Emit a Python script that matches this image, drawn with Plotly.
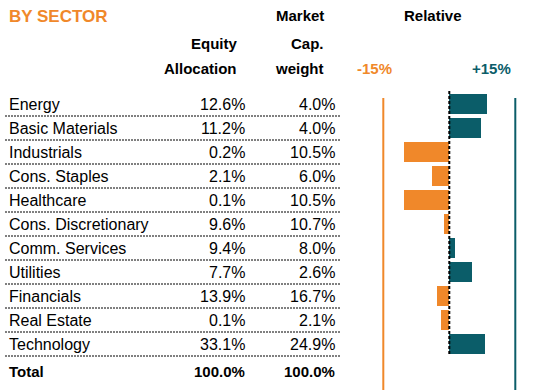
import plotly.graph_objects as go

sectors = ["Energy", "Basic Materials", "Industrials", "Cons. Staples", "Healthcare",
           "Cons. Discretionary", "Comm. Services", "Utilities", "Financials",
           "Real Estate", "Technology"]
equity_alloc = [12.6, 11.2, 0.2, 2.1, 0.1, 9.6, 9.4, 7.7, 13.9, 0.1, 33.1]
market_cap = [4.0, 4.0, 10.5, 6.0, 10.5, 10.7, 8.0, 2.6, 16.7, 2.1, 24.9]
total_equity = 100.0
total_mcap = 100.0
relative = [round(e - m, 1) for e, m in zip(equity_alloc, market_cap)]
ref_low, ref_high = -15, 15

ORANGE = "#F0882A"
TEAL = "#0B5D69"
FONT = "Liberation Sans"
W, H = 542, 390

idx = list(range(len(sectors)))
colors = [TEAL if r >= 0 else ORANGE for r in relative]

fig = go.Figure()
fig.add_trace(go.Bar(x=relative, y=idx, orientation="h", marker=dict(color=colors, line=dict(width=0)),
                     width=0.83, hoverinfo="skip"))

# axis mapping: zero at px 449.3, 4.4 px per %
px_per = 4.4
x0px = 449.3
xr = [(0 - x0px) / px_per, (W - x0px) / px_per]
row0 = 104.0
pitch = 24.0
yr = [(H - row0) / pitch, (0 - row0) / pitch]

def px(x):
    return x / W

def py(y):
    return 1 - y / H

ann = []
def t(text, x, y, anchor="left", bold=False, size=16, color="black", yref="paper"):
    ann.append(dict(text=f"<b>{text}</b>" if bold else text, x=px(x), xref="paper",
                    y=y, yref=yref, xanchor=anchor, yanchor="middle", showarrow=False,
                    font=dict(family=FONT, size=size, color=color)))

# headers
t("BY SECTOR", 7, py(17), bold=True, size=17, color=ORANGE)
t("Market", 326, py(16), anchor="right", bold=True, size=15)
t("Relative", 433, py(16), anchor="center", bold=True, size=15)
t("Equity", 239, py(43), anchor="right", bold=True, size=15)
t("Cap.", 326, py(43), anchor="right", bold=True, size=15)
t("Allocation", 239, py(68), anchor="right", bold=True, size=15)
t("weight", 326, py(68), anchor="right", bold=True, size=15)
t("-15%", 394, py(68), anchor="right", bold=True, size=15, color=ORANGE)
t("+15%", 513, py(68), anchor="right", bold=True, size=15, color=TEAL)

for i, (s, e, m) in enumerate(zip(sectors, equity_alloc, market_cap)):
    t(s, 7, i, yref="y")
    t(f"{e:.1f}%", 247, i, anchor="right", yref="y")
    t(f"{m:.1f}%", 337, i, anchor="right", yref="y")
ti = len(sectors) + 0.15
t("Total", 7, ti, bold=True, size=15, yref="y")
t(f"{total_equity:.1f}%", 247, ti, anchor="right", bold=True, size=15, yref="y")
t(f"{total_mcap:.1f}%", 337, ti, anchor="right", bold=True, size=15, yref="y")

shapes = []
for i in idx:
    shapes.append(dict(type="line", xref="paper", yref="y", x0=px(5), x1=px(341),
                       y0=i + 0.5, y1=i + 0.5, line=dict(color="black", width=1, dash="2px,1px")))
shapes.append(dict(type="line", xref="x", yref="y", x0=0, x1=0, y0=-0.54, y1=len(sectors) - 0.5,
                   line=dict(color="black", width=2, dash="3px,2px"), layer="above"))
shapes.append(dict(type="line", xref="x", yref="y", x0=ref_low, x1=ref_low, y0=-0.25, y1=yr[0],
                   line=dict(color=ORANGE, width=2)))
shapes.append(dict(type="line", xref="x", yref="y", x0=ref_high, x1=ref_high, y0=-0.25, y1=yr[0],
                   line=dict(color=TEAL, width=2)))

fig.update_layout(
    width=W, height=H, margin=dict(l=0, r=0, t=0, b=0),
    paper_bgcolor="white", plot_bgcolor="white", showlegend=False,
    xaxis=dict(range=xr, visible=False, fixedrange=True),
    yaxis=dict(range=yr, visible=False, fixedrange=True),
    annotations=ann, shapes=shapes, bargap=0,
)
fig.write_html("out.html", config={"displayModeBar": False},
               post_script="document.body.style.margin='0';document.body.style.overflow='hidden';")
